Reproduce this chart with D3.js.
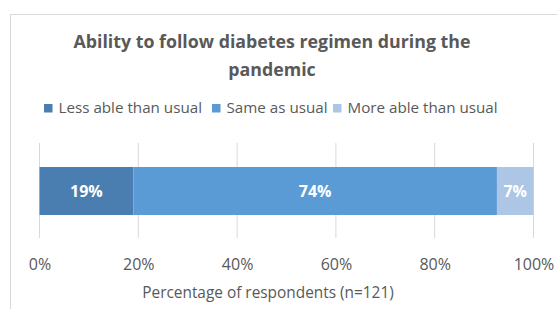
<!DOCTYPE html>
<html><head><meta charset="utf-8">
<script src="https://cdn.jsdelivr.net/npm/d3@7"></script>
<style>body{margin:0;background:#fff}svg{display:block}text{font-family:"Open Sans",sans-serif}</style>
</head><body><svg id="c" width="557" height="309"></svg>
<script>
const titleLines = ["Ability to follow diabetes regimen during the", "pandemic"];
const categories = ["Less able than usual", "Same as usual", "More able than usual"];
const values = [19.0, 73.6, 7.4];
const labels = ["19%", "74%", "7%"];
const colors = ["#4a7eb0", "#5b9bd5", "#adc6e5"];
const ticks = [0, 20, 40, 60, 80, 100];
const axisTitle = "Percentage of respondents (n=121)";

const svg = d3.select("#c");
svg.append("rect").attr("x",10.5).attr("y",14.5).attr("width",560).attr("height",310)
  .attr("fill","#fff").attr("stroke","#d9d9d9");

const x = d3.scaleLinear().domain([0,100]).range([39.5,533.5]);

// gridlines
svg.append("g").selectAll("line").data(ticks).join("line")
  .attr("x1",d=>x(d)).attr("x2",d=>x(d)).attr("y1",143).attr("y2",238)
  .attr("stroke","#d9d9d9").attr("stroke-width",1);

// stacked bars
let cum = 0;
const segs = values.map((v,i)=>{const s={i,v,x0:cum,x1:cum+v};cum+=v;return s;});
svg.append("g").selectAll("rect").data(segs).join("rect")
  .attr("x",d=>x(d.x0)).attr("width",d=>x(d.x1)-x(d.x0))
  .attr("y",167).attr("height",48).attr("fill",d=>colors[d.i]);
svg.append("g").selectAll("text").data(segs).join("text")
  .attr("x",d=>(x(d.x0)+x(d.x1))/2).attr("y",191).attr("dy","0.35em")
  .attr("text-anchor","middle").attr("fill","#fff").attr("font-weight","bold")
  .attr("font-size",16).text(d=>labels[d.i]);

// axis labels
const ax = d3.axisBottom(x).tickValues(ticks).tickFormat(d=>d+"%").tickSize(0);
const g = svg.append("g").attr("transform","translate(0,256)").call(ax);
g.select(".domain").remove();
g.selectAll("text").attr("font-size",16).attr("fill","#595959").attr("font-family","Open Sans, sans-serif");

svg.append("text").attr("x",268).attr("y",293).attr("dy","0.35em").attr("text-anchor","middle")
  .attr("font-size",15.4).attr("fill","#595959").text(axisTitle);

// title
svg.append("g").selectAll("text").data(titleLines).join("text")
  .attr("x",272).attr("y",(d,i)=>42+i*28).attr("dy","0.35em").attr("text-anchor","middle")
  .attr("font-size",17.8).attr("font-weight","bold").attr("fill","#595959").text(d=>d);

// legend
const legX = [44, 212, 333];
const lg = svg.append("g").selectAll("g").data(categories).join("g")
  .attr("transform",(d,i)=>`translate(${legX[i]},108)`);
lg.append("rect").attr("x",0).attr("y",-4).attr("width",8.5).attr("height",8.5).attr("fill",(d,i)=>colors[i]);
lg.append("text").attr("x",14.5).attr("y",0).attr("dy","0.35em").attr("font-size",15.2)
  .attr("fill","#595959").text(d=>d);
</script></body></html>
